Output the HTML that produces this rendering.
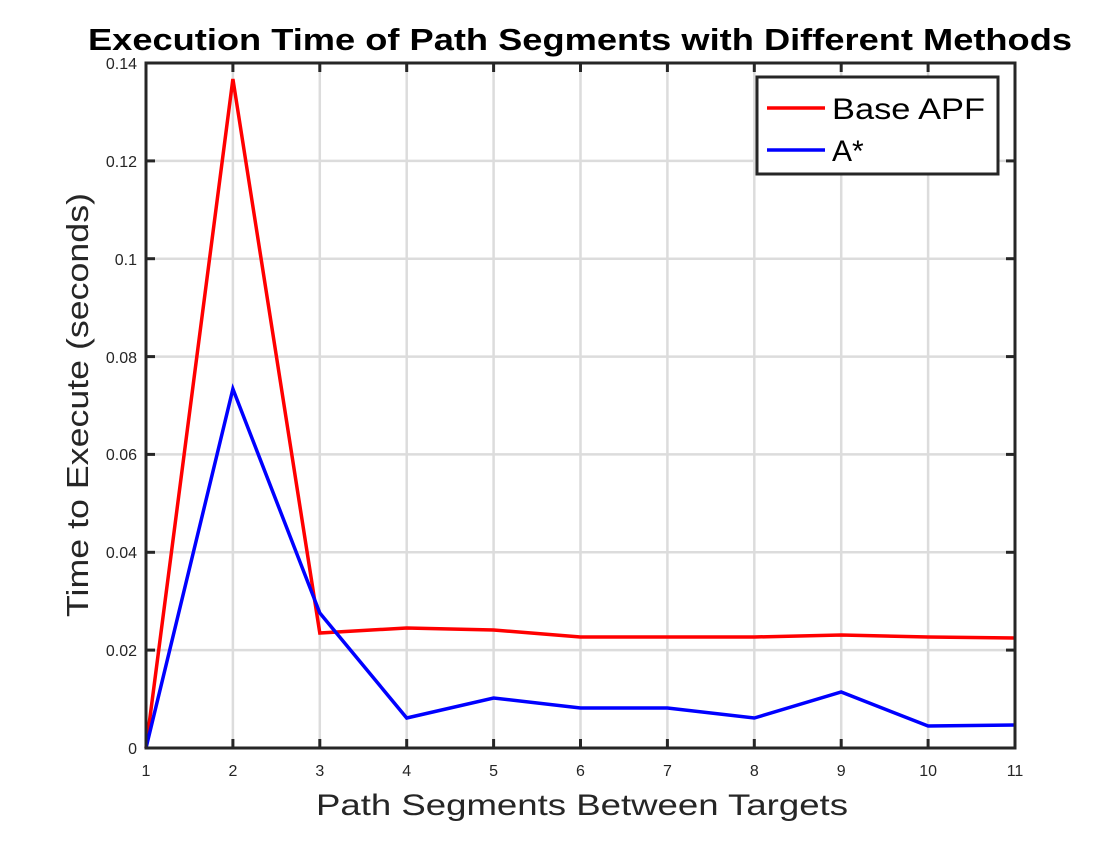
<!DOCTYPE html>
<html><head><style>body{margin:0;background:#fff}</style></head><body>
<svg width="1120" height="840" xmlns="http://www.w3.org/2000/svg" font-family="Liberation Sans, Arial, sans-serif">
<rect width="1120" height="840" fill="#fff"/>
<g stroke="#dcdcdc" stroke-width="2.5">
<line x1="232.9" y1="63" x2="232.9" y2="748"/><line x1="319.8" y1="63" x2="319.8" y2="748"/><line x1="406.7" y1="63" x2="406.7" y2="748"/><line x1="493.6" y1="63" x2="493.6" y2="748"/><line x1="580.5" y1="63" x2="580.5" y2="748"/><line x1="667.4" y1="63" x2="667.4" y2="748"/><line x1="754.3" y1="63" x2="754.3" y2="748"/><line x1="841.2" y1="63" x2="841.2" y2="748"/><line x1="928.1" y1="63" x2="928.1" y2="748"/>
<line x1="146" y1="650.1" x2="1015" y2="650.1"/><line x1="146" y1="552.3" x2="1015" y2="552.3"/><line x1="146" y1="454.4" x2="1015" y2="454.4"/><line x1="146" y1="356.6" x2="1015" y2="356.6"/><line x1="146" y1="258.7" x2="1015" y2="258.7"/><line x1="146" y1="160.9" x2="1015" y2="160.9"/>
</g>
<polyline fill="none" stroke="#ff0000" stroke-width="3.5" points="146,748 232.9,79 319.8,633 406.7,628 493.6,630 580.5,637 667.4,637 754.3,637 841.2,635 928.1,637 1015,638"/>
<polyline fill="none" stroke="#0000ff" stroke-width="3.5" points="146,748 232.9,389 319.8,613 406.7,718 493.6,698 580.5,708 667.4,708 754.3,718 841.2,692 928.1,726 1015,725"/>
<rect x="146" y="63" width="869" height="685" fill="none" stroke="#262626" stroke-width="3"/>
<g stroke="#262626" stroke-width="3">
<line x1="232.9" y1="748" x2="232.9" y2="739"/><line x1="319.8" y1="748" x2="319.8" y2="739"/><line x1="406.7" y1="748" x2="406.7" y2="739"/><line x1="493.6" y1="748" x2="493.6" y2="739"/><line x1="580.5" y1="748" x2="580.5" y2="739"/><line x1="667.4" y1="748" x2="667.4" y2="739"/><line x1="754.3" y1="748" x2="754.3" y2="739"/><line x1="841.2" y1="748" x2="841.2" y2="739"/><line x1="928.1" y1="748" x2="928.1" y2="739"/>
<line x1="232.9" y1="63" x2="232.9" y2="72"/><line x1="319.8" y1="63" x2="319.8" y2="72"/><line x1="406.7" y1="63" x2="406.7" y2="72"/><line x1="493.6" y1="63" x2="493.6" y2="72"/><line x1="580.5" y1="63" x2="580.5" y2="72"/><line x1="667.4" y1="63" x2="667.4" y2="72"/><line x1="754.3" y1="63" x2="754.3" y2="72"/><line x1="841.2" y1="63" x2="841.2" y2="72"/><line x1="928.1" y1="63" x2="928.1" y2="72"/>
<line x1="146" y1="650.1" x2="155" y2="650.1"/><line x1="146" y1="552.3" x2="155" y2="552.3"/><line x1="146" y1="454.4" x2="155" y2="454.4"/><line x1="146" y1="356.6" x2="155" y2="356.6"/><line x1="146" y1="258.7" x2="155" y2="258.7"/><line x1="146" y1="160.9" x2="155" y2="160.9"/>
<line x1="1015" y1="650.1" x2="1006" y2="650.1"/><line x1="1015" y1="552.3" x2="1006" y2="552.3"/><line x1="1015" y1="454.4" x2="1006" y2="454.4"/><line x1="1015" y1="356.6" x2="1006" y2="356.6"/><line x1="1015" y1="258.7" x2="1006" y2="258.7"/><line x1="1015" y1="160.9" x2="1006" y2="160.9"/>
</g>
<g font-size="16" fill="#262626" text-anchor="middle">
<text x="146" y="776">1</text><text x="232.9" y="776">2</text><text x="319.8" y="776">3</text><text x="406.7" y="776">4</text><text x="493.6" y="776">5</text><text x="580.5" y="776">6</text><text x="667.4" y="776">7</text><text x="754.3" y="776">8</text><text x="841.2" y="776">9</text><text x="928.1" y="776">10</text><text x="1015" y="776">11</text>
</g>
<g font-size="16" fill="#262626" text-anchor="end">
<text x="137" y="754">0</text><text x="137" y="656">0.02</text><text x="137" y="558">0.04</text><text x="137" y="460">0.06</text><text x="137" y="363">0.08</text><text x="137" y="265">0.1</text><text x="137" y="167">0.12</text><text x="137" y="69">0.14</text>
</g>
<text x="316" y="815" font-size="30" fill="#262626" textLength="532" lengthAdjust="spacingAndGlyphs">Path Segments Between Targets</text>
<text transform="translate(88,617) rotate(-90)" font-size="31" fill="#262626" textLength="424" lengthAdjust="spacingAndGlyphs">Time to Execute (seconds)</text>
<text x="88" y="50" font-size="31" font-weight="bold" fill="#000" textLength="984" lengthAdjust="spacingAndGlyphs">Execution Time of Path Segments with Different Methods</text>
<rect x="757" y="77" width="241" height="97" fill="#fff" stroke="#262626" stroke-width="3"/>
<line x1="767" y1="108" x2="825" y2="108" stroke="#ff0000" stroke-width="3.5"/>
<line x1="767" y1="150" x2="825" y2="150" stroke="#0000ff" stroke-width="3.5"/>
<text x="832" y="119" font-size="30" fill="#000" textLength="153" lengthAdjust="spacingAndGlyphs">Base APF</text>
<text x="832" y="161" font-size="30" fill="#000">A*</text>
</svg>
</body></html>
